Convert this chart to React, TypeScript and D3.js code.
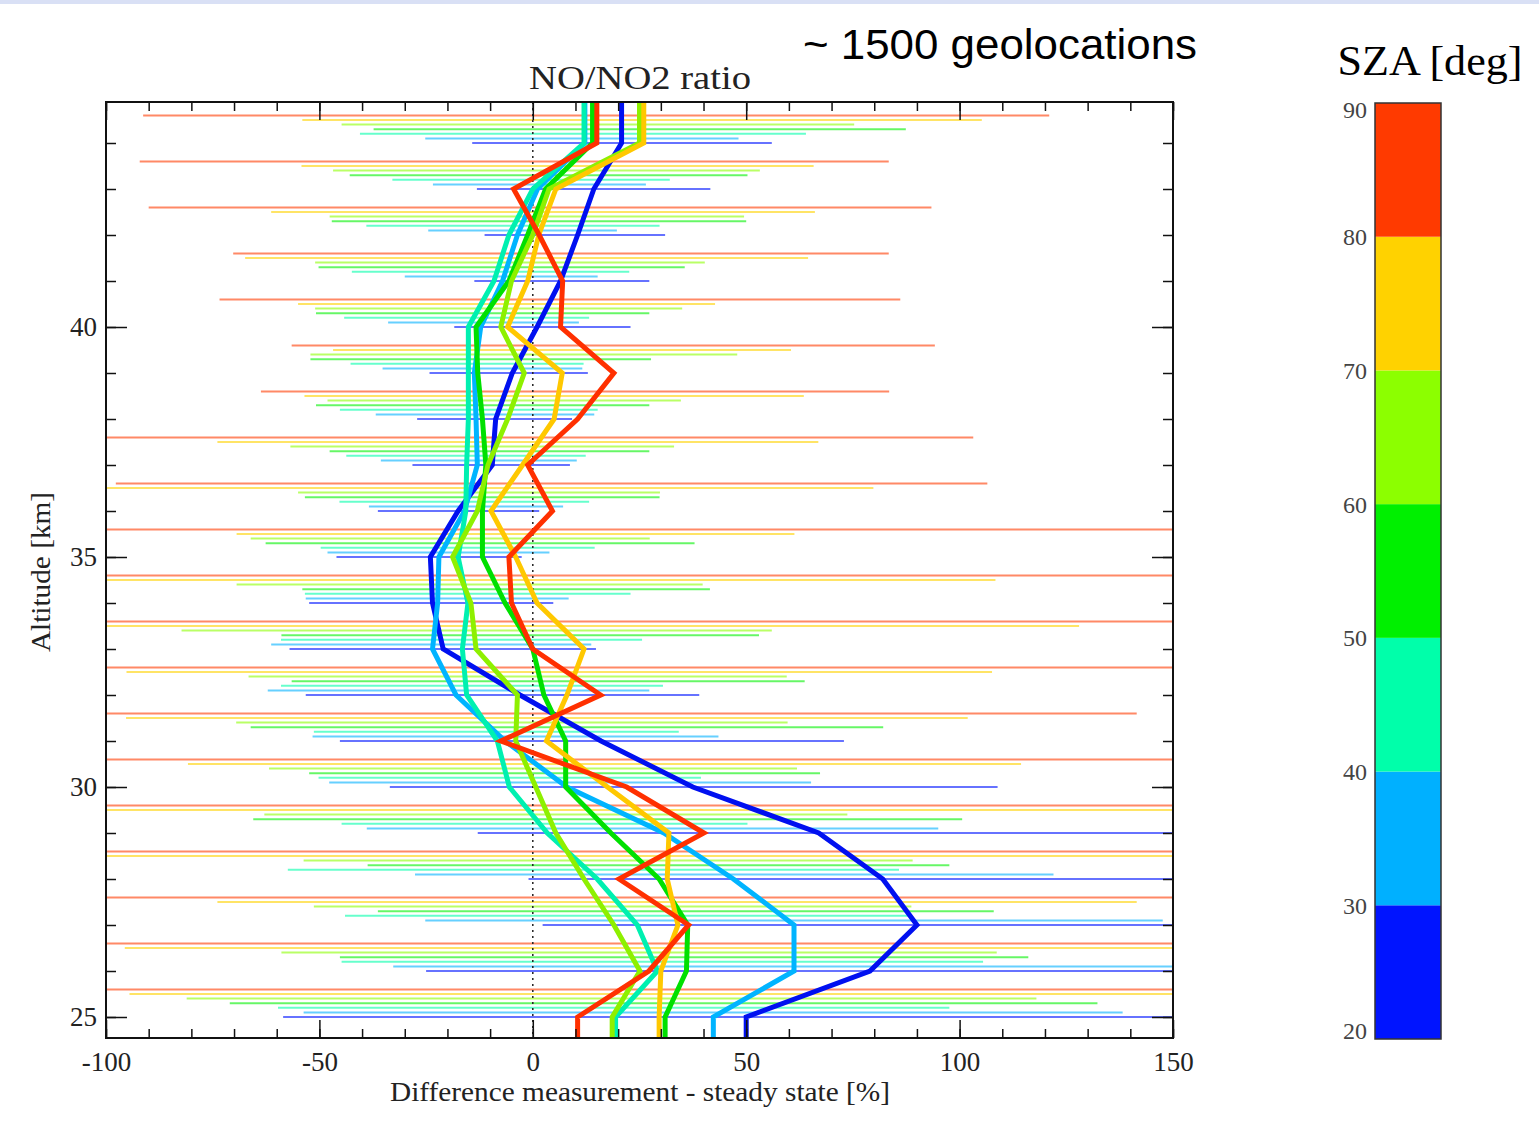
import React, { useEffect, useRef } from 'react';
import * as d3 from 'd3';

// altitude grid of the profiles [km]
const altitudes = [25, 26, 27, 28, 29, 30, 31, 32, 33, 34, 35, 36, 37, 38, 39, 40, 41, 42, 43, 44];
const szaTicks = [20, 30, 40, 50, 60, 70, 80, 90];
const szaBins = ['20-30', '30-40', '40-50', '50-60', '60-70', '70-80', '80-90'];
const binColors = ['#0014ff', '#00b0ff', '#00ffaa', '#00f000', '#8cff00', '#ffd200', '#ff3a00'];
const lineColors = ['#0010f0', '#00b4ff', '#00f0b0', '#00e000', '#8ef000', '#ffc800', '#ff3000'];

// mean difference measurement - steady state [%], 25..44 km, one array per SZA bin
const mean2030 = [50, 79, 90, 82, 67, 37.5, 16, -3, -21, -23.5, -24, -17.5, -9.5, -8.7, -4.8, 1, 6.5, 10.5, 14.3, 20.8];
const mean3040 = [42.3, 61.2, 61.2, 47, 30.7, 8, -6.5, -18, -23.5, -22.3, -22, -16, -13, -13.3, -13.7, -12.2, -7.1, -3.6, 1.1, 12.2];
const mean4050 = [19.4, 29.2, 24.5, 15.1, 3.4, -5.5, -8.3, -15.5, -16.5, -15.2, -17.5, -15.7, -15.5, -15.1, -15.1, -15.1, -9.1, -5.6, 0, 12];
const mean5060 = [31, 36, 36.3, 29.6, 18.3, 7.7, 7.7, 2.6, 0, -6.5, -11.8, -11.8, -11, -11.8, -12.9, -13.3, -5.6, -1.2, 3, 14];
const mean6070 = [18.6, 25.1, 19, 12, 5.4, 0.7, -4, -3.6, -13.3, -14.5, -18.8, -13, -10.5, -5.9, -2, -7.5, -5, 0, 3.8, 25];
const mean7080 = [29.6, 30, 34, 31.5, 31.9, 17.5, 3.2, 8, 12, 1, -4, -9.8, -2.4, 5, 6.9, -5.9, -1.2, 1.4, 5.4, 26];
const mean8090 = [10.5, 27.2, 36.5, 20.2, 40.1, 22, -7.5, 15.9, 0, -5, -5.6, 4.6, -1.2, 10.5, 19, 6.5, 7, 1.5, -4.5, 15];

// spread (low, high) of the single geolocations, 25..44 km
const spread2030 = [[-58.5, 160], [-25, 160], [2.3, 160], [-1, 160], [-12.9, 160], [-33.5, 108.9], [-45.2, 72.9], [-53.2, 39], [-57, 14.8], [-52.4, 4.8], [-46, -2.6], [-36.3, 1.5], [-28.2, 8.7], [-27.1, 9.2], [-24.2, 12.9], [-18.4, 22.9], [-13.7, 27.3], [-11.3, 31], [-13.1, 41.6], [-14.2, 56]];
const spread3040 = [[-53.7, 138.2], [-32.7, 160], [-25.2, 147.6], [-27.6, 122], [-38.9, 95], [-47.7, 65.2], [-51.6, 43.5], [-62.1, 27.3], [-61.3, 13.7], [-53.2, 8.4], [-48.1, 3.9], [-38.4, 7.1], [-35.6, 10.3], [-36.8, 14.4], [-35.2, 11.6], [-33.9, 10.8], [-30, 15.2], [-24.5, 19.7], [-23.4, 26.5], [-25.2, 48.2]];
const spread4050 = [[-59.7, 97.6], [-44.8, 105.5], [-44, 88.2], [-57.4, 85.8], [-44.8, 50.3], [-50.2, 39.4], [-51.3, 34.2], [-59, 30.5], [-59, 25.6], [-53.4, 22.9], [-49.7, 14.5], [-45.3, 13.2], [-43.7, 12.4], [-45.2, 15.2], [-42.7, 11.9], [-44.2, 13.2], [-42.4, 22.6], [-39, 29.7], [-32.9, 32.1], [-40.5, 64]];
const spread5060 = [[-71, 132.3], [-45.2, 116.1], [-36.3, 108], [-38.7, 97.6], [-65.5, 100.6], [-52.4, 67.3], [-66.1, 82.1], [-56.5, 63.7], [-58.9, 53], [-54, 41.5], [-62.6, 37.9], [-53.4, 29.7], [-47.6, 27.3], [-50.8, 27.3], [-52.1, 27.7], [-50.8, 27.3], [-50.2, 35.6], [-47.1, 50], [-42.9, 50.3], [-37.3, 87.4]];
const spread6070 = [[-81.1, 118], [-58.9, 108.7], [-51.3, 88.7], [-53.7, 89], [-62.9, 73.7], [-61.8, 61.9], [-69.5, 59.7], [-66.6, 59.5], [-82.3, 56], [-69.4, 39.8], [-66.1, 27.4], [-55, 29.8], [-56.8, 33.1], [-48.1, 34.7], [-52.1, 47.9], [-51, 35], [-51, 40.3], [-47.6, 49.5], [-46.8, 53.2], [-44.8, 75.3]];
const spread7080 = [[-94.5, 160], [-95.6, 160], [-73.9, 141.5], [-110, 160], [-110, 160], [-80.8, 114.4], [-95.3, 101.9], [-95.2, 107.6], [-100, 128], [-100, 108.4], [-69.4, 61.3], [-100, 79.8], [-73.9, 66.9], [-53.5, 63.5], [-46.8, 60.5], [-55, 42.7], [-67.4, 64.5], [-61.3, 66.1], [-54.2, 65.8], [-54, 105.2]];
const spread8090 = [[-110, 160], [-110, 160], [-110, 160], [-110, 160], [-110, 160], [-110, 160], [-100, 141.5], [-110, 160], [-110, 160], [-110, 160], [-110, 160], [-97.7, 106.5], [-100, 103.2], [-63.7, 83.5], [-56.5, 94.2], [-73.4, 86.1], [-70.2, 83.4], [-90, 93.4], [-92.1, 83.4], [-91.3, 121]];

const means = [mean2030, mean3040, mean4050, mean5060, mean6070, mean7080, mean8090];
const spreads = [spread2030, spread3040, spread4050, spread5060, spread6070, spread7080, spread8090];

const App = () => {
  const svgRef = useRef<SVGSVGElement>(null);

  useEffect(() => {
    const svg = d3.select(svgRef.current);
    svg.selectAll('*').remove();

    const left = 106, right = 1173, top = 102, bottom = 1038;
    const serif = '"Liberation Serif", "DejaVu Serif", serif';

    const x = d3.scaleLinear().domain([-100, 150]).range([left, right]);
    const y = d3.scaleLinear().domain([25, 40]).range([1017, 327]);

    svg.append('rect').attr('width', 1539).attr('height', 4).attr('fill', '#d9e0f5');

    svg.append('defs').append('clipPath').attr('id', 'plotClip')
      .append('rect').attr('x', left).attr('y', top).attr('width', right - left).attr('height', bottom - top);

    const plot = svg.append('g').attr('clip-path', 'url(#plotClip)');

    // thin spread bars, each SZA bin shifted up by 0.1 km
    spreads.forEach((bars, i) => {
      plot.append('g')
        .selectAll('line')
        .data(bars)
        .enter()
        .append('line')
        .attr('x1', d => x(d[0]))
        .attr('x2', d => x(d[1]))
        .attr('y1', (d, j) => y(altitudes[j] + 0.1 * i))
        .attr('y2', (d, j) => y(altitudes[j] + 0.1 * i))
        .attr('stroke', binColors[i])
        .attr('stroke-width', 2)
        .attr('stroke-opacity', 0.6);
    });

    plot.append('line')
      .attr('x1', x(0)).attr('x2', x(0)).attr('y1', top).attr('y2', bottom)
      .attr('stroke', '#222').attr('stroke-width', 1.5).attr('stroke-dasharray', '2,4');

    // thick mean profiles, continued straight to the frame
    const line = d3.line<[number, number]>().x(d => x(d[1])).y(d => y(d[0]));
    means.forEach((vals, i) => {
      const pts: [number, number][] = [[24, vals[0]], ...altitudes.map((a, j) => [a, vals[j]] as [number, number]), [46, vals[vals.length - 1]]];
      plot.append('path')
        .datum(pts)
        .attr('d', line)
        .attr('fill', 'none')
        .attr('stroke', lineColors[i])
        .attr('stroke-width', 5)
        .attr('stroke-linejoin', 'miter')
        .attr('data-bin', szaBins[i]);
    });

    // axes, ticks pointing inwards
    const styleAxis = (g) => {
      g.select('.domain').remove();
      g.selectAll('line').attr('stroke', '#111').attr('stroke-width', 1.5);
      g.selectAll('text').attr('font-family', serif).attr('font-size', 27).attr('fill', '#222');
    };
    const xMinor = d3.range(-100, 151, 10);
    const xMajor = [-100, -50, 0, 50, 100, 150];
    const yMinor = d3.range(25, 45, 1);
    const yMajor = [25, 30, 35, 40];
    const plain = d => String(d);

    svg.append('g').attr('transform', `translate(0,${bottom})`)
      .call(d3.axisBottom(x).tickValues(xMinor).tickSize(-9).tickFormat(() => '')).call(styleAxis);
    svg.append('g').attr('transform', `translate(0,${bottom})`)
      .call(d3.axisBottom(x).tickValues(xMajor).tickSize(-18).tickPadding(14).tickFormat(plain)).call(styleAxis);
    svg.append('g').attr('transform', `translate(0,${top})`)
      .call(d3.axisTop(x).tickValues(xMinor).tickSize(-9).tickFormat(() => '')).call(styleAxis);
    svg.append('g').attr('transform', `translate(0,${top})`)
      .call(d3.axisTop(x).tickValues(xMajor).tickSize(-18).tickFormat(() => '')).call(styleAxis);

    svg.append('g').attr('transform', `translate(${left},0)`)
      .call(d3.axisLeft(y).tickValues(yMinor).tickSize(-10).tickFormat(() => '')).call(styleAxis);
    svg.append('g').attr('transform', `translate(${left},0)`)
      .call(d3.axisLeft(y).tickValues(yMajor).tickSize(-21).tickPadding(9).tickFormat(plain)).call(styleAxis);
    svg.append('g').attr('transform', `translate(${right},0)`)
      .call(d3.axisRight(y).tickValues(yMinor).tickSize(-10).tickFormat(() => '')).call(styleAxis);
    svg.append('g').attr('transform', `translate(${right},0)`)
      .call(d3.axisRight(y).tickValues(yMajor).tickSize(-21).tickFormat(() => '')).call(styleAxis);

    svg.append('rect')
      .attr('x', left).attr('y', top).attr('width', right - left).attr('height', bottom - top)
      .attr('fill', 'none').attr('stroke', '#111').attr('stroke-width', 2);

    svg.append('text')
      .attr('x', 640).attr('y', 89).attr('text-anchor', 'middle')
      .attr('font-family', serif).attr('font-size', 33).attr('fill', '#222')
      .attr('textLength', 222).attr('lengthAdjust', 'spacingAndGlyphs')
      .text('NO/NO2 ratio');

    svg.append('text')
      .attr('x', 640).attr('y', 1101).attr('text-anchor', 'middle')
      .attr('font-family', serif).attr('font-size', 28).attr('fill', '#222')
      .attr('textLength', 500).attr('lengthAdjust', 'spacingAndGlyphs')
      .text('Difference measurement - steady state [%]');

    svg.append('text')
      .attr('transform', 'translate(50,572) rotate(-90)').attr('text-anchor', 'middle')
      .attr('font-family', serif).attr('font-size', 28).attr('fill', '#222')
      .attr('textLength', 160).attr('lengthAdjust', 'spacingAndGlyphs')
      .text('Altitude [km]');

    svg.append('text')
      .attr('x', 1000).attr('y', 59).attr('text-anchor', 'middle')
      .attr('font-family', '"Liberation Sans", Arial, sans-serif').attr('font-size', 42).attr('fill', '#000')
      .attr('textLength', 394).attr('lengthAdjust', 'spacingAndGlyphs')
      .text('~ 1500 geolocations');

    // colour bar
    const sza = d3.scaleLinear().domain([20, 90]).range([1039, 103]);
    svg.append('text')
      .attr('x', 1430).attr('y', 75).attr('text-anchor', 'middle')
      .attr('font-family', serif).attr('font-size', 42).attr('fill', '#000')
      .attr('textLength', 185).attr('lengthAdjust', 'spacingAndGlyphs')
      .text('SZA [deg]');

    svg.append('g')
      .selectAll('rect')
      .data(szaTicks.slice(0, -1))
      .enter()
      .append('rect')
      .attr('x', 1375)
      .attr('width', 66)
      .attr('y', d => sza(d + 10))
      .attr('height', d => sza(d) - sza(d + 10))
      .attr('fill', (d, i) => binColors[i]);

    svg.append('rect')
      .attr('x', 1375).attr('y', sza(90)).attr('width', 66).attr('height', sza(20) - sza(90))
      .attr('fill', 'none').attr('stroke', '#333').attr('stroke-width', 1.5);

    svg.append('g')
      .selectAll('text')
      .data(szaTicks)
      .enter()
      .append('text')
      .attr('x', 1367)
      .attr('y', d => Math.min(Math.max(sza(d), 110), 1031))
      .attr('dy', '0.35em')
      .attr('text-anchor', 'end')
      .attr('font-family', serif)
      .attr('font-size', 24)
      .attr('fill', '#444')
      .text(d => d);
  }, []);

  return (
    <svg ref={svgRef} width={1539} height={1140}
      style={{ position: 'absolute', left: 0, top: 0, background: '#fff' }} />
  );
};

export default App;
